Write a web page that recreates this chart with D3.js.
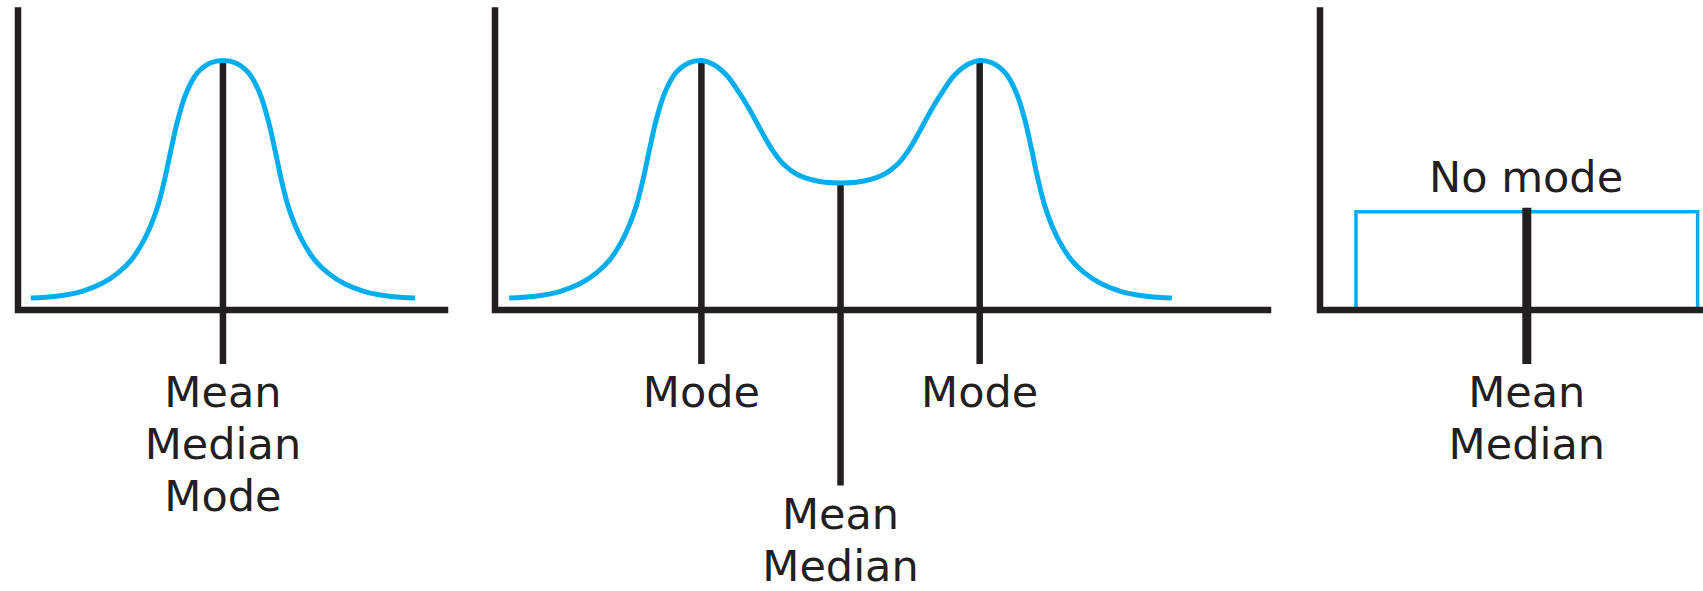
<!DOCTYPE html>
<html>
<head>
<meta charset="utf-8">
<script src="https://cdn.jsdelivr.net/npm/d3@7"></script>
<style>
  html, body { margin: 0; padding: 0; background: #ffffff; }
  svg { display: block; }
  text { font-family: "DejaVu Sans", sans-serif; font-size: 43px; fill: #231f20; }
</style>
</head>
<body>
<svg id="chart" width="1703" height="591"></svg>
<script>
// ---------------- DATA ----------------
// Panel 1: symmetric (normal) distribution, x in 0..100, relative height (peak = 1)
const symX = [3.0, 9.0, 15.0, 19.5, 23.5, 26.5, 29.0, 31.0, 32.8, 34.3, 35.8, 37.4, 39.4, 42.0, 45.0, 48.0,
              51.0, 54.0, 56.6, 58.6, 60.2, 61.7, 63.2, 65.0, 67.0, 69.5, 72.5, 76.5, 81.0, 87.0, 93.0];
const symY = [0.048, 0.055, 0.075, 0.105, 0.150, 0.200, 0.265, 0.335, 0.420, 0.520, 0.640, 0.760, 0.870, 0.950, 0.990, 1.0,
              0.990, 0.950, 0.870, 0.760, 0.640, 0.520, 0.420, 0.335, 0.265, 0.200, 0.150, 0.105, 0.075, 0.055, 0.048];
const symMarks = [{x: 48.0, top: 1.0, bottom: -0.216}];
const symLabels = [{x: 48.0, lines: ["Mean", "Median", "Mode"], start: 0}];

// Panel 2: bimodal distribution
const biX = [1.84, 5.16, 8.47, 10.96, 13.17, 14.82, 16.21, 17.31, 18.30, 19.13, 19.96, 20.84, 21.95, 23.39, 25.04, 26.7,
             28.2, 30.0, 31.6, 33.0, 34.4, 35.8, 37.3, 39.0, 41.5, 44.7,
             47.9, 50.4, 52.1, 53.6, 55.0, 56.4, 57.8, 59.4, 61.2, 62.7,
             64.36, 66.01, 67.45, 68.56, 69.44, 70.27, 71.10, 72.09, 73.19, 74.58, 76.23, 78.44, 80.93, 84.24, 87.56];
const biY = [0.048, 0.055, 0.075, 0.105, 0.150, 0.200, 0.265, 0.335, 0.420, 0.520, 0.640, 0.760, 0.870, 0.950, 0.990, 1.0,
             0.985, 0.940, 0.870, 0.800, 0.720, 0.645, 0.585, 0.545, 0.518, 0.509,
             0.518, 0.545, 0.585, 0.645, 0.720, 0.800, 0.870, 0.940, 0.985, 1.0,
             0.990, 0.950, 0.870, 0.760, 0.640, 0.520, 0.420, 0.335, 0.265, 0.200, 0.150, 0.105, 0.075, 0.055, 0.048];
const biMarks = [{x: 26.7, top: 1.0, bottom: -0.216},
                 {x: 62.7, top: 1.0, bottom: -0.216},
                 {x: 44.7, top: 0.509, bottom: -0.703}];
const biLabels = [{x: 26.7, lines: ["Mode"], start: 0},
                  {x: 44.7, lines: ["Mean", "Median"], start: 2.34},
                  {x: 62.7, lines: ["Mode"], start: 0}];

// Panel 3: uniform distribution
const uniX = [9.4, 98.6];
const uniHeight = 0.394;
const uniMarks = [{x: 54.0, top: 0.41, bottom: -0.216}];
const uniLabels = [{x: 54.0, lines: ["Mean", "Median"], start: 0}];
const uniTopLabel = "No mode";

// ---------------- LAYOUT ----------------
const BLUE = "#00aeef", INK = "#231f20";
const svg = d3.select("#chart");
const y = d3.scaleLinear().domain([0, 1.2]).range([310, 10.6]);
const lineH = 52, firstBase = 97;

function axes(g, x, xEnd) {
  g.append("path")
    .attr("d", `M${x(0)},${y(1.2)}L${x(0)},${y(0)}L${xEnd},${y(0)}`)
    .attr("fill", "none").attr("stroke", INK).attr("stroke-width", 6.5)
    .attr("stroke-linejoin", "miter").attr("stroke-linecap", "square");
}
function marks(g, x, data, w) {
  g.selectAll("line.mark").data(data).join("line").attr("class", "mark")
    .attr("x1", d => x(d.x)).attr("x2", d => x(d.x))
    .attr("y1", d => y(d.top)).attr("y2", d => y(d.bottom))
    .attr("stroke", INK).attr("stroke-width", w);
}
function labels(g, x, data) {
  data.forEach(d => {
    d.lines.forEach((t, i) => {
      g.append("text").attr("x", x(d.x))
        .attr("y", y(0) + firstBase + (d.start + i) * lineH)
        .attr("text-anchor", "middle").text(t);
    });
  });
}
function curve(g, x, xs, ys) {
  const pts = xs.map((v, i) => [v, ys[i]]);
  g.append("path").datum(pts)
    .attr("d", d3.line().x(d => x(d[0])).y(d => y(d[1])).curve(d3.curveCatmullRom.alpha(0.5)))
    .attr("fill", "none").attr("stroke", BLUE).attr("stroke-width", 5)
    .attr("stroke-linejoin", "round");
}

// Panel 1
{
  const x = d3.scaleLinear().domain([0, 100]).range([18, 445]);
  const g = svg.append("g");
  axes(g, x, x(100));
  marks(g, x, symMarks, 6.5);
  curve(g, x, symX, symY);
  labels(g, x, symLabels);
}
// Panel 2
{
  const x = d3.scaleLinear().domain([0, 100]).range([495, 1268]);
  const g = svg.append("g");
  axes(g, x, x(100));
  marks(g, x, biMarks, 6.5);
  curve(g, x, biX, biY);
  labels(g, x, biLabels);
}
// Panel 3
{
  const x = d3.scaleLinear().domain([0, 100]).range([1320, 1703]);
  const g = svg.append("g");
  g.append("path")
    .attr("d", `M${x(uniX[0])},${y(0)}L${x(uniX[0])},${y(uniHeight)}L${x(uniX[1])},${y(uniHeight)}L${x(uniX[1])},${y(0)}`)
    .attr("fill", "none").attr("stroke", BLUE).attr("stroke-width", 3.5);
  axes(g, x, 1710);
  marks(g, x, uniMarks, 9);
  labels(g, x, uniLabels);
  g.append("text").attr("x", x(53.8)).attr("y", y(uniHeight) - 20)
    .attr("text-anchor", "middle").text(uniTopLabel);
}
</script>
</body>
</html>
